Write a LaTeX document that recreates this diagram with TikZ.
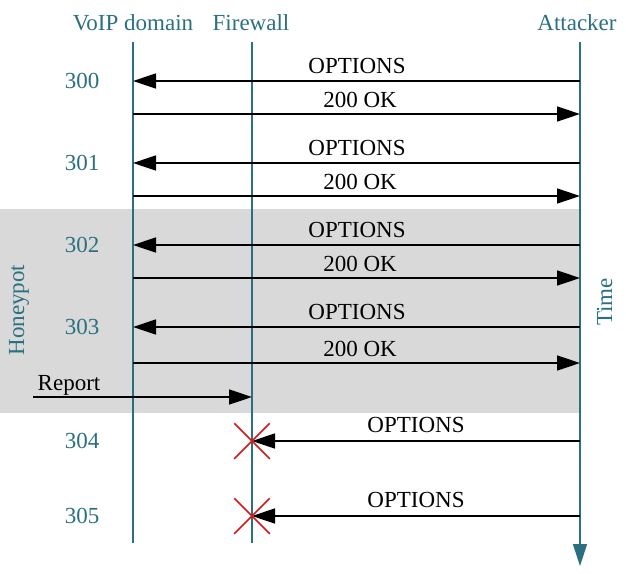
\documentclass[tikz,border=0pt]{standalone}
\usepackage{fontspec}
\setmainfont{Liberation Serif}
\usetikzlibrary{arrows.meta,shapes.misc}
\definecolor{lifeteal}{RGB}{42,112,128}
\definecolor{hpgray}{RGB}{217,217,217}
\definecolor{dropred}{RGB}{214,24,24}

\begin{document}
\begin{tikzpicture}[x=1pt,y=-1pt,
  every node/.style={font=\fontsize{23}{27}\selectfont, inner sep=0pt},
  head/.style={text=lifeteal, anchor=base},
  seqnum/.style={text=lifeteal, anchor=center},
  sidelabel/.style={text=lifeteal, rotate=90, anchor=base},
  lifeline/.style={draw=lifeteal, line width=1.3pt},
  timeaxis/.style={draw=lifeteal, line width=1.3pt,
    -{Triangle[length=22pt,width=14pt,fill=lifeteal]}},
  msg/.style={draw=black, line width=1.5pt, -{Triangle[length=23pt,width=15pt]}},
  msglabel/.style={anchor=base, text=black},
  dropped/.style={draw=dropred, line width=1.5pt, cross out, minimum size=34pt}]
\useasboundingbox (0,0) rectangle (626,573);

% honeypot phase background
\fill[hpgray] (0,209) rectangle (580,412.5);

% participants
\node[head] (hVoip) at (133,30) {VoIP domain};
\node[head] (hFw)   at (251,30) {Firewall};
\node[head] (hAtt)  at (577,30) {Attacker};

% lifelines
\coordinate (vTop) at (133,42);  \coordinate (vBot) at (133,543);
\coordinate (fTop) at (252,42);  \coordinate (fBot) at (252,543);
\coordinate (aTop) at (580,42);  \coordinate (aBot) at (580,566);
\draw[lifeline] (vTop) -- (vBot);
\draw[lifeline] (fTop) -- (fBot);
\draw[timeaxis] (aTop) -- (aBot);

% side labels
\node[sidelabel] (lHoney) at (24,310) {Honeypot};
\node[sidelabel] (lTime)  at (612,302) {Time};

% probe / answer exchanges with the VoIP domain
\foreach \n/\yo/\yk in {300/81/114, 301/163/196, 302/245/278, 303/327/363}{
  \coordinate (a\n)  at (580,\yo);
  \coordinate (v\n)  at (133,\yo);
  \coordinate (vk\n) at (133,\yk);
  \coordinate (ak\n) at (580,\yk);
  \draw[msg] (a\n) -- (v\n);
  \draw[msg] (vk\n) -- (ak\n);
  \node[msglabel] (opt\n) at (357,\yo-8) {OPTIONS};
  \node[msglabel] (ok\n)  at (360,\yk-6.5) {200 OK};
  \node[seqnum] (num\n) at (82,\yo) {\n};
}

% report from the honeypot to the firewall
\coordinate (rStart) at (33,397);
\coordinate (fRep) at (252,397);
\draw[msg] (rStart) -- (fRep);
\node[msglabel] (lRep) at (69,390) {Report};

% probes blocked at the firewall
\foreach \n/\y in {304/441, 305/516}{
  \coordinate (a\n) at (580,\y);
  \coordinate (f\n) at (252,\y);
  \draw[msg] (a\n) -- (f\n);
  \node[dropped] (x\n) at (f\n) {};
  \node[msglabel] (opt\n) at (416,\y-8.5) {OPTIONS};
  \node[seqnum] (num\n) at (82,\y) {\n};
}
\end{tikzpicture}
\end{document}
